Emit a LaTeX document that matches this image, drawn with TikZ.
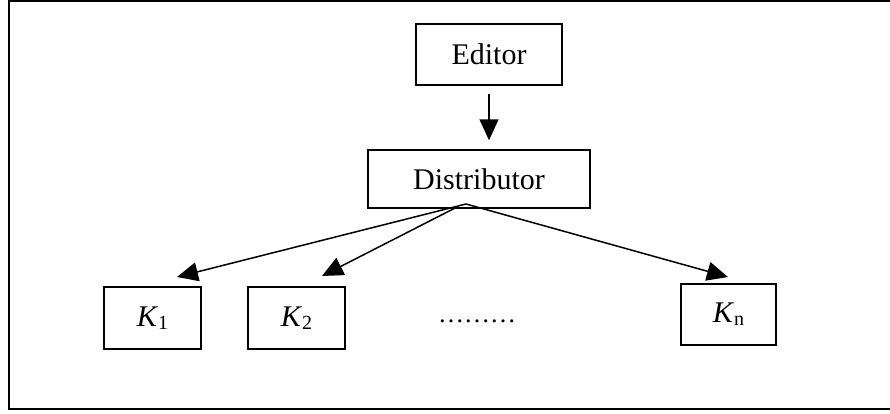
\documentclass[tikz,border=0pt]{standalone}
\usepackage{fontspec}
\setmainfont{Liberation Serif}
\usetikzlibrary{arrows.meta}
\newcommand{\Ksub}[1]{\textit{K}\raisebox{-0.2ex}{\fontsize{20}{20}\selectfont #1}}
\begin{document}
\begin{tikzpicture}[x=1pt,y=-1pt,
  box/.style={draw,line width=1.5pt,rectangle,inner sep=0pt,font=\fontsize{30}{34}\selectfont},
  arr/.style={line width=1.5pt,-{Triangle[length=21pt,width=19pt]}}]
\useasboundingbox (0,0) rectangle (890,413);
\draw[line width=2pt] (890,1) -- (8.5,1) -- (8.5,408.5) -- (890,408.5);
\node[box,minimum width=146pt,minimum height=61pt] (ed) at (489,54.5) {Editor};
\node[box,minimum width=222pt,minimum height=58pt] (dist) at (479,179) {Distributor};
\node[box,minimum width=97pt,minimum height=62pt] (k1) at (152.5,318) {\Ksub{1}};
\node[box,minimum width=97pt,minimum height=62pt] (k2) at (296.5,318) {\Ksub{2}};
\node[box,minimum width=95pt,minimum height=61pt] (kn) at (728.5,314.5) {\Ksub{n}};
\node[font=\fontsize{26}{30}\selectfont,inner sep=0pt,anchor=base] (dots) at (477,322) {………};
\coordinate (apex) at (466,204);
\coordinate (apex2) at (458,206.5);
\coordinate (t1) at (177,277);
\coordinate (t2) at (322,276);
\coordinate (tn) at (728,277);
\draw[arr,shorten <=8pt,shorten >=9pt] (ed.south) -- (ed.south |- dist.north);
\draw[arr] (apex) -- (t1);
\draw[arr] (apex2) -- (t2);
\draw[arr] (apex) -- (tn);
\end{tikzpicture}
\end{document}
